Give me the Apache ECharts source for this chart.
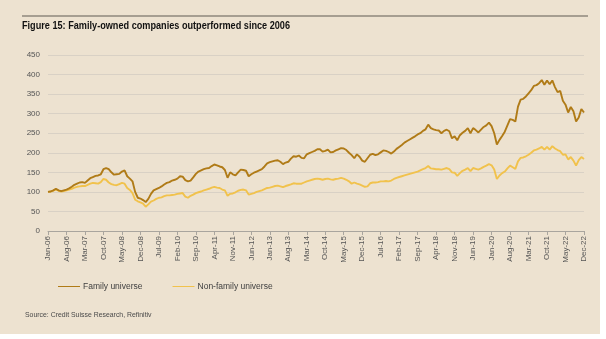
<!DOCTYPE html>
<html>
<head>
<meta charset="utf-8">
<script src="https://cdn.jsdelivr.net/npm/echarts@6/dist/echarts.min.js"></script>
<style>
html,body{margin:0;padding:0;background:#ffffff;}
#chart{width:606px;height:339px;}
</style>
</head>
<body>
<div id="chart"></div>
<script>
// Monthly categories Jan-06 .. Dec-22
var monthNames = ['Jan','Feb','Mar','Apr','May','Jun','Jul','Aug','Sep','Oct','Nov','Dec'];
var years = ['06','07','08','09','10','11','12','13','14','15','16','17','18','19','20','21','22'];
var categories = [];
years.forEach(function(y){ monthNames.forEach(function(m){ categories.push(m + '-' + y); }); });

var yTicks = [0, 50, 100, 150, 200, 250, 300, 350, 400, 450];

var familyUniverse = [
  100,101,104,108,104,102,104,106,109,113,118,121,
  124,125,123,129,135,138,141,142,145,158,161,158,
  150,144,145,146,152,155,140,134,127,100,85,83,
  79,74,82,95,104,107,110,114,119,123,125,129,
  131,134,140,139,130,127,129,137,146,152,155,158,
  160,161,166,170,168,165,163,156,136,150,145,142,
  150,157,156,154,140,145,149,152,155,158,165,173,
  176,178,180,181,177,171,175,177,185,191,190,193,
  187,186,196,199,202,205,209,209,203,205,208,201,
  202,206,209,212,211,207,200,194,186,196,190,180,
  177,186,195,197,194,196,201,206,205,202,198,203,
  210,215,220,226,230,234,238,242,247,250,256,260,
  272,263,260,258,257,250,256,259,255,237,242,232,
  245,251,256,263,250,263,258,252,259,266,270,277,
  268,250,221,233,243,254,270,286,284,280,318,336,
  338,344,352,360,371,373,378,386,374,385,375,385,
  368,355,358,333,323,303,317,306,280,290,312,303
];

var nonFamilyUniverse = [
  100,101,103,106,103,101,102,104,106,108,111,113,
  114,115,115,118,121,123,122,121,125,133,131,124,
  120,118,117,120,123,121,110,105,97,80,76,73,
  70,62,68,75,78,82,85,86,89,91,91,92,
  93,95,96,97,88,85,90,93,97,99,101,104,
  106,108,111,113,111,110,106,104,90,95,96,99,
  103,105,106,104,93,95,97,100,102,104,107,110,
  111,113,115,116,114,112,115,117,119,122,121,121,
  121,124,127,129,131,133,134,133,131,133,134,132,
  131,133,134,136,134,131,127,121,124,121,119,116,
  113,114,122,124,124,125,127,127,128,127,129,133,
  136,138,140,142,144,146,148,150,152,155,158,161,
  166,160,159,158,158,157,159,161,158,150,149,141,
  148,154,157,161,153,161,159,157,160,164,167,171,
  168,157,133,142,148,152,160,167,163,159,178,187,
  188,191,195,200,206,208,211,215,208,215,208,217,
  211,207,204,195,196,183,189,180,167,181,189,184
];

var seriesNames = ['Family universe', 'Non-family universe'];
var seriesColors = ['#B07B17', '#F1C24C'];

var chart = echarts.init(document.getElementById('chart'), null, {renderer: 'canvas'});
var FONT = '"Liberation Sans", Arial, sans-serif';

chart.setOption({
  backgroundColor: '#ffffff',
  animation: false,
  graphic: [
    {type: 'rect', left: 0, top: 0, shape: {width: 600, height: 334}, style: {fill: '#EDE2D0'}, z: -10},
    {type: 'line', shape: {x1: 22, y1: 16, x2: 588, y2: 16}, style: {stroke: '#8E877D', lineWidth: 1.5}},
    {type: 'text', x: 22, y: 21, scaleX: 0.87, scaleY: 1,
     style: {text: 'Figure 15: Family-owned companies outperformed since 2006', font: 'bold 10.5px ' + FONT, fill: '#111111'}},
    {type: 'text', x: 25, y: 311, scaleX: 0.92,
     style: {text: 'Source: Credit Suisse Research, Refinitiv', font: '7.5px ' + FONT, fill: '#4a4a4a'}}
  ],
  legend: {
    left: 53, top: 277,
    itemWidth: 22, itemHeight: 8, itemGap: 30,
    icon: 'path://M0,3.5 L22,3.5 L22,4.5 L0,4.5 Z',
    textStyle: {fontFamily: FONT, fontSize: 8.5, color: '#404040', padding: [0,0,0,-2]},
    data: seriesNames
  },
  grid: {left: 48, right: 22, top: 55, bottom: 108, containLabel: false},
  xAxis: {
    type: 'category',
    data: categories,
    boundaryGap: false,
    axisLine: {lineStyle: {color: '#A9A59E', width: 1}},
    axisTick: {show: true, interval: 6, length: 4, lineStyle: {color: '#A9A59E'}},
    axisLabel: {interval: 6, rotate: 90, fontFamily: FONT, fontSize: 8, color: '#555555', margin: 5},
    splitLine: {show: false}
  },
  yAxis: {
    type: 'value',
    min: yTicks[0], max: yTicks[yTicks.length - 1], interval: 50,
    axisLine: {show: false},
    axisTick: {show: false},
    axisLabel: {fontFamily: FONT, fontSize: 8, color: '#555555', margin: 8},
    splitLine: {lineStyle: {color: '#D9D1C5', width: 1}}
  },
  series: [
    {name: seriesNames[0], type: 'line', data: familyUniverse, symbol: 'none', smooth: false,
     lineStyle: {color: seriesColors[0], width: 1.9}, itemStyle: {color: seriesColors[0]}, z: 3},
    {name: seriesNames[1], type: 'line', data: nonFamilyUniverse, symbol: 'none', smooth: false,
     lineStyle: {color: seriesColors[1], width: 1.9}, itemStyle: {color: seriesColors[1]}, z: 2}
  ]
});
</script>
</body>
</html>
